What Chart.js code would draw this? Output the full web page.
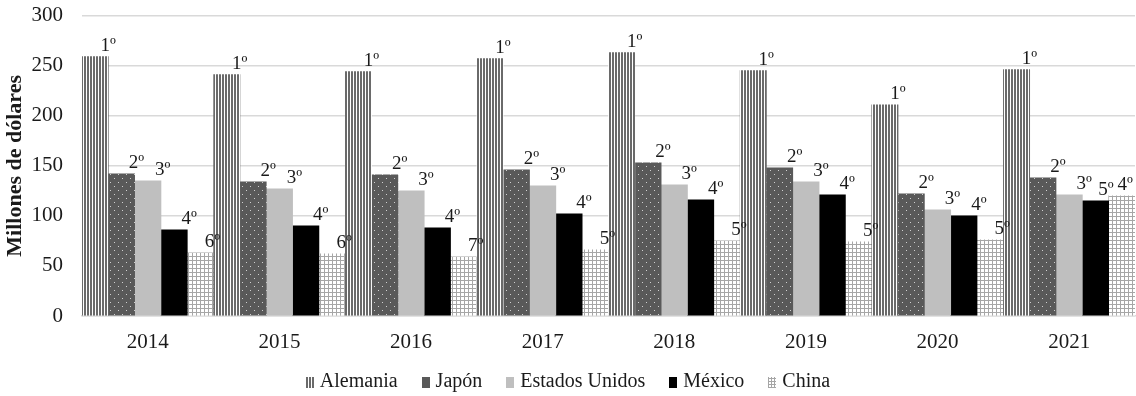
<!DOCTYPE html>
<html lang="es">
<head>
    <meta charset="UTF-8">
    <title>Millones de dólares</title>
    <script src="https://cdn.jsdelivr.net/npm/chart.js"></script>
    <style>
        body {
            margin: 0;
            background: #fff;
        }
        #wrap {
            position: relative;
            width: 1136px;
            height: 396px;
        }
        #legend {
            position: absolute;
            left: 0;
            top: 369px;
            width: 1136px;
            text-align: center;
            font-family: 'Liberation Serif', serif;
            font-size: 20px;
            color: #1a1a1a;
        }
        .item {
            display: inline-block;
            margin: 0 12px;
        }
        .sw {
            display: inline-block;
            width: 8px;
            height: 11px;
            margin-right: 6px;
            vertical-align: -1px;
        }
    </style>
</head>
<body>
    <div id="wrap">
        <canvas id="myChart" width="1136" height="396"></canvas>
        <div id="legend"></div>
    </div>
    <script>
        const years = ['2014', '2015', '2016', '2017', '2018', '2019', '2020', '2021'];

        const alemania = [259, 241, 244, 257, 263, 245, 211, 246];
        const japon = [142, 134, 141, 146, 153, 148, 122, 138];
        const estadosUnidos = [135, 127, 125, 130, 131, 134, 106, 121];
        const mexico = [86, 90, 88, 102, 116, 121, 100, 115];
        const china = [63, 62, 59, 66, 75, 74, 76, 120];

        // posición en el ranking de cada país por año
        const rankAlemania = ['1º', '1º', '1º', '1º', '1º', '1º', '1º', '1º'];
        const rankJapon = ['2º', '2º', '2º', '2º', '2º', '2º', '2º', '2º'];
        const rankEEUU = ['3º', '3º', '3º', '3º', '3º', '3º', '3º', '3º'];
        const rankMexico = ['4º', '4º', '4º', '4º', '4º', '4º', '4º', '5º'];
        const rankChina = ['6º', '6º', '7º', '5º', '5º', '5º', '5º', '4º'];

        const yTicks = [0, 50, 100, 150, 200, 250, 300];

        function makePattern(w, h, draw) {
            const c = document.createElement('canvas');
            c.width = w;
            c.height = h;
            const g = c.getContext('2d');
            draw(g);
            return g.createPattern(c, 'repeat');
        }

        const stripes = makePattern(3, 4, g => {
            g.fillStyle = '#ffffff';
            g.fillRect(0, 0, 3, 4);
            g.fillStyle = '#6a6a6a';
            g.fillRect(0, 0, 2, 4);
        });
        const dots = makePattern(8, 8, g => {
            g.fillStyle = '#595959';
            g.fillRect(0, 0, 8, 8);
            g.fillStyle = '#d0d0d0';
            g.fillRect(2, 2, 1, 1);
            g.fillRect(6, 6, 1, 1);
        });
        const grid = makePattern(4, 4, g => {
            g.fillStyle = '#ffffff';
            g.fillRect(0, 0, 4, 4);
            g.fillStyle = '#a6a6a6';
            g.fillRect(0, 0, 4, 1);
            g.fillRect(0, 0, 1, 4);
        });

        const series = [
            { label: 'Alemania', data: alemania, ranks: rankAlemania, fill: stripes, shift: 13,
              css: 'repeating-linear-gradient(90deg, #6a6a6a 0 2px, #fff 2px 3px)' },
            { label: 'Japón', data: japon, ranks: rankJapon, fill: dots, shift: 15,
              css: '#595959' },
            { label: 'Estados Unidos', data: estadosUnidos, ranks: rankEEUU, fill: '#bfbfbf', shift: 15,
              css: '#bfbfbf' },
            { label: 'México', data: mexico, ranks: rankMexico, fill: '#000000', shift: 15,
              css: '#000000' },
            { label: 'China', data: china, ranks: rankChina, fill: grid, shift: 12,
              css: 'repeating-linear-gradient(90deg, #a6a6a6 0 1px, transparent 1px 3px), repeating-linear-gradient(0deg, #a6a6a6 0 1px, #fff 1px 3px)' }
        ];

        // etiquetas de ranking sobre cada barra (se corren a la izquierda si se pisan)
        const rankLabels = {
            id: 'rankLabels',
            afterDatasetsDraw(chart) {
                const ctx = chart.ctx;
                ctx.save();
                ctx.font = '19px "Liberation Serif", serif';
                ctx.fillStyle = '#1a1a1a';
                ctx.textAlign = 'center';
                ctx.textBaseline = 'alphabetic';
                const sets = chart.data.datasets;
                years.forEach((yr, j) => {
                    const items = sets.map((ds, i) => {
                        const bar = chart.getDatasetMeta(i).data[j];
                        const text = ds.ranks[j];
                        return { text, w: ctx.measureText(text).width, x: bar.x + ds.shift, y: bar.y - 6 };
                    });
                    for (let k = items.length - 1; k >= 0; k--) {
                        const it = items[k];
                        it.x = Math.min(it.x, chart.width - 3 - it.w / 2);
                        if (k < items.length - 1) {
                            const nx = items[k + 1];
                            const overlapV = Math.abs(nx.y - it.y) < 16;
                            if (overlapV) it.x = Math.min(it.x, nx.x - nx.w / 2 - it.w / 2 - 4);
                        }
                    }
                    items.forEach(it => ctx.fillText(it.text, it.x, it.y));
                });
                ctx.restore();
            }
        };

        const data = {
            labels: years,
            datasets: series.map(s => ({
                label: s.label,
                data: s.data,
                ranks: s.ranks,
                shift: s.shift,
                backgroundColor: s.fill,
                borderWidth: 0,
                categoryPercentage: 1.0,
                barPercentage: 1.0
            }))
        };

        const config = {
            type: 'bar',
            data: data,
            options: {
                responsive: false,
                animation: false,
                layout: {
                    padding: { top: 13, right: 1, bottom: 44, left: 0 }
                },
                plugins: {
                    legend: { display: false },
                    tooltip: { enabled: false }
                },
                scales: {
                    x: {
                        grid: { display: false, drawTicks: false },
                        border: { display: true, color: '#d9d9d9', width: 1.5 },
                        ticks: {
                            color: '#1a1a1a',
                            padding: 14,
                            font: { family: 'Liberation Serif', size: 21 }
                        },
                        afterFit: scale => { scale.height = 36; }
                    },
                    y: {
                        min: 0,
                        max: 300,
                        afterBuildTicks: scale => {
                            scale.ticks = yTicks.map(v => ({ value: v }));
                        },
                        grid: {
                            color: '#d9d9d9',
                            lineWidth: 1.5,
                            drawTicks: true,
                            tickLength: 16,
                            tickColor: 'rgba(0,0,0,0)'
                        },
                        border: { display: false },
                        ticks: {
                            color: '#1a1a1a',
                            padding: 3,
                            font: { family: 'Liberation Serif', size: 21 }
                        },
                        title: {
                            display: true,
                            text: 'Millones de dólares',
                            color: '#1a1a1a',
                            padding: { top: 2, bottom: 0 },
                            font: { family: 'Liberation Serif', size: 22, weight: 'bold' }
                        },
                        afterFit: scale => { scale.width = 82; }
                    }
                }
            },
            plugins: [rankLabels]
        };

        const ctx = document.getElementById('myChart').getContext('2d');
        const myChart = new Chart(ctx, config);

        document.getElementById('legend').innerHTML = series
            .map(s => `<span class="item"><span class="sw" style="background:${s.css}"></span>${s.label}</span>`)
            .join('');
    </script>
</body>
</html>
